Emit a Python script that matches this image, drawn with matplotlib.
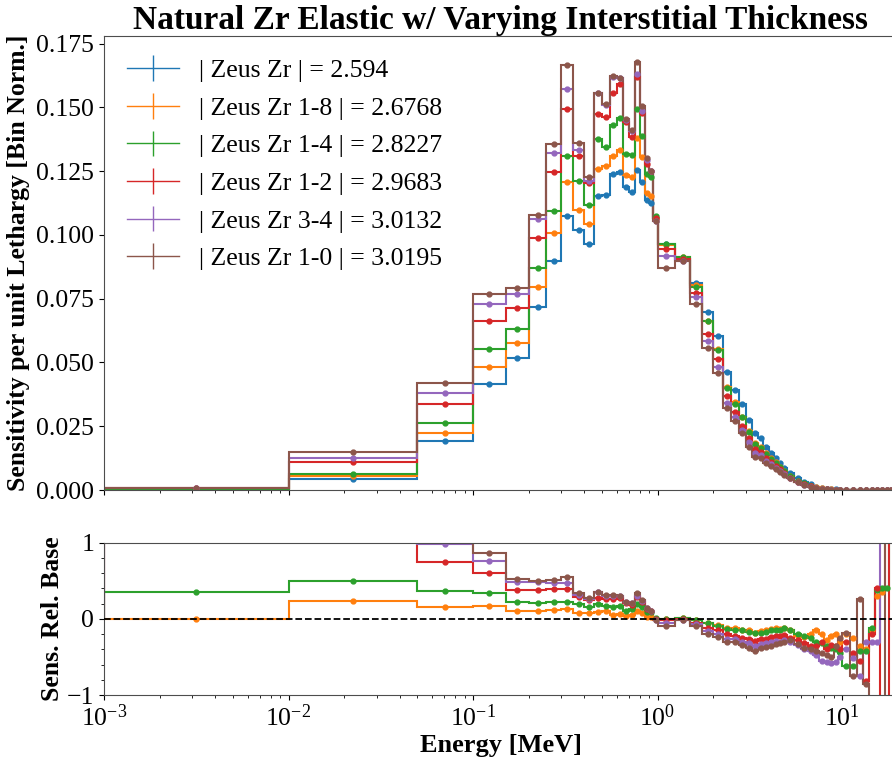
import numpy as np
import matplotlib
matplotlib.use("Agg")
import matplotlib.pyplot as plt
from matplotlib.ticker import AutoMinorLocator, MultipleLocator, FormatStrFormatter

plt.rcParams['font.family'] = ['Liberation Serif', 'DejaVu Serif']
plt.rcParams['mathtext.fontset'] = 'stix'
plt.rcParams['axes.edgecolor'] = '0.3'

# energy group boundaries [MeV]
edges = [1e-3, 1e-2, 5e-2,
         0.10, 0.15, 0.20, 0.25, 0.30, 0.35, 0.40, 0.45, 0.50, 0.55,
         0.60, 0.65, 0.70, 0.75, 0.80, 0.85, 0.90, 0.95, 1.00,
         1.25, 1.50, 1.75, 2.00, 2.25, 2.50, 2.75, 3.00, 3.25, 3.50,
         3.75, 4.00, 4.25, 4.50, 4.75, 5.00,
         5.5, 6.0, 6.5, 7.0, 7.5, 8.0, 8.5, 9.0, 9.5, 10.0,
         11.0, 12.0, 13.0, 14.0, 15.0, 16.0, 17.0, 18.0, 19.0, 20.0]

# base case (Zeus Zr) sensitivity per unit lethargy
base = [0.0003, 0.0043, 0.0193,
        0.0414, 0.0518, 0.0718, 0.0898, 0.1074, 0.1018, 0.0966, 0.1153, 0.1156,
        0.1240, 0.1247, 0.1188, 0.1168, 0.1256, 0.1208, 0.1136, 0.1125, 0.1065,
        0.0965, 0.0905, 0.0812, 0.0696, 0.0603, 0.0461, 0.0392, 0.0337, 0.0274,
        0.0225, 0.0202, 0.0170, 0.0144, 0.0124, 0.0105, 0.0085,
        0.0065, 0.0046, 0.0033, 0.0022, 0.0013, 0.0008, 0.0005, 0.0003, 0.0002,
        0.00012,
        6e-5, 3.5e-5, 2e-5, 1.2e-5, 7e-6, 4e-6, 2.5e-6, 1.5e-6, 9e-7, 5e-7]

# relative difference to base for each interstitial case
rel_18 = [0.00, 0.24, 0.16,
          0.165, 0.11, 0.11, 0.12, 0.125, 0.08, 0.08, 0.09, 0.10,
          0.055, 0.07, 0.04, 0.05, 0.10, 0.08, 0.025, 0.025, 0.00,
          -0.005, 0.01, -0.01, -0.05, -0.08, -0.12, -0.12, -0.15, -0.15,
          -0.18, -0.16, -0.15, -0.13, -0.12, -0.13, -0.12,
          -0.15, -0.22, -0.24, -0.20, -0.15, -0.20, -0.28, -0.22, -0.20, -0.30,
          -0.20, -0.25, -0.35, -0.40, -0.15, 0.30, 0.35, 2.0, 2.0, 2.0]
rel_14 = [0.35, 0.50, 0.37,
          0.34, 0.22, 0.21, 0.22, 0.22, 0.19, 0.155, 0.195, 0.165,
          0.155, 0.17, 0.11, 0.125, 0.19, 0.15, 0.09, 0.09, 0.01,
          0.00, 0.01, -0.02, -0.05, -0.09, -0.13, -0.14, -0.15, -0.17,
          -0.19, -0.18, -0.17, -0.15, -0.14, -0.14, -0.12,
          -0.14, -0.20, -0.22, -0.25, -0.30, -0.32, -0.36, -0.38, -0.40, -0.45,
          -0.62, -0.62, -0.42, -0.42, -0.12, 0.38, 0.40, 0.40, 2.0, 2.0]
rel_12 = [1.30, 1.58, 0.75,
          0.60, 0.38, 0.375, 0.39, 0.39, 0.285, 0.245, 0.28, 0.265,
          0.255, 0.275, 0.215, 0.185, 0.29, 0.225, 0.125, 0.11, 0.00,
          -0.02, 0.00, -0.05, -0.12, -0.15, -0.20, -0.22, -0.25, -0.26,
          -0.29, -0.27, -0.26, -0.24, -0.23, -0.22, -0.21,
          -0.25, -0.28, -0.32, -0.36, -0.36, -0.30, -0.40, -0.34, -0.36, -0.40,
          -0.30, -0.45, -0.55, -0.82, -0.20, 0.40, -1.5, -1.5, 2.0, 2.0]
rel_34 = [1.60, 1.93, 0.98,
          0.765, 0.48, 0.48, 0.47, 0.465, 0.31, 0.255, 0.35, 0.305,
          0.305, 0.295, 0.22, 0.205, 0.30, 0.23, 0.14, 0.11, -0.01,
          -0.05, -0.01, -0.07, -0.16, -0.20, -0.26, -0.27, -0.30, -0.32,
          -0.36, -0.33, -0.32, -0.30, -0.29, -0.30, -0.28,
          -0.30, -0.34, -0.40, -0.42, -0.48, -0.55, -0.56, -0.58, -0.56, -0.50,
          -0.40, -0.52, -0.75, -0.30, -0.30, -0.30, 2.0, 2.0, 2.0, 2.0]
rel_10 = [2.00, 2.49, 1.17,
          0.86, 0.53, 0.50, 0.51, 0.55, 0.335, 0.27, 0.35, 0.31,
          0.31, 0.295, 0.225, 0.21, 0.335, 0.245, 0.145, 0.11, -0.01,
          -0.10, -0.01, -0.10, -0.20, -0.24, -0.30, -0.31, -0.34, -0.38,
          -0.42, -0.38, -0.37, -0.35, -0.33, -0.32, -0.30,
          -0.28, -0.33, -0.38, -0.40, -0.42, -0.45, -0.48, -0.50, -0.36, -0.25,
          -0.18, -0.75, 0.26, -0.85, -1.5, -1.5, -1.5, 2.0, 2.0, 2.0]

labels = ['| Zeus Zr | = 2.594', '| Zeus Zr 1-8 | = 2.6768',
          '| Zeus Zr 1-4 | = 2.8227', '| Zeus Zr 1-2 | = 2.9683',
          '| Zeus Zr 3-4 | = 3.0132', '| Zeus Zr 1-0 | = 3.0195']
colors = ['tab:blue', 'tab:orange', 'tab:green', 'tab:red', 'tab:purple', 'tab:brown']

edges = np.array(edges)
base = np.array(base)
centers = np.sqrt(edges[:-1] * edges[1:])
rels = [np.zeros_like(base)] + [np.array(r) for r in (rel_18, rel_14, rel_12, rel_34, rel_10)]

fig = plt.figure(figsize=(8.92, 7.61), dpi=100)
ax = fig.add_axes([0.1166, 0.3561, 0.8897, 0.5966])
axr = fig.add_axes([0.1166, 0.0867, 0.8897, 0.2001], sharex=ax)

for i in range(6):
    vals = base * (1 + rels[i])
    ax.stairs(vals, edges, color=colors[i], lw=1.5)
    ax.plot(centers, vals, 'o', ms=3.5, color=colors[i])
    # legend entry in errorbar style
    ax.errorbar([], [], yerr=[], color=colors[i], lw=1.0, label=labels[i])
    if i > 0:
        axr.stairs(rels[i], edges, color=colors[i], lw=1.5)
        axr.plot(centers, rels[i], 'o', ms=3.5, color=colors[i])

axr.axhline(0, color='black', ls='--', lw=1.3, zorder=5)

ax.set_xscale('log')
ax.set_xlim(1e-3, 20)
ax.set_ylim(0, 0.178)
ax.yaxis.set_major_locator(MultipleLocator(0.025))
ax.yaxis.set_major_formatter(FormatStrFormatter('%.3f'))
axr.set_ylim(-1, 1)
axr.set_yticks([-1, 0, 1])
axr.yaxis.set_minor_locator(AutoMinorLocator(5))

ax.set_title('Natural Zr Elastic w/ Varying Interstitial Thickness',
             fontsize=24, fontweight='bold', pad=4)
ax.set_ylabel('Sensitivity per unit Lethargy [Bin Norm.]', fontsize=18.5, fontweight='bold')
axr.set_ylabel('Sens. Rel. Base', fontsize=18.5, fontweight='bold')
axr.set_xlabel('Energy [MeV]', fontsize=19, fontweight='bold', labelpad=2)
ax.yaxis.set_label_coords(-0.093, 0.5)
axr.yaxis.set_label_coords(-0.05, 0.5)

ax.tick_params(labelsize=18.5, labelbottom=False)
axr.tick_params(labelsize=18.5)

ax.legend(loc='upper left', fontsize=18.5, frameon=False, labelspacing=0.57)

fig.savefig('out.png', dpi=100)
